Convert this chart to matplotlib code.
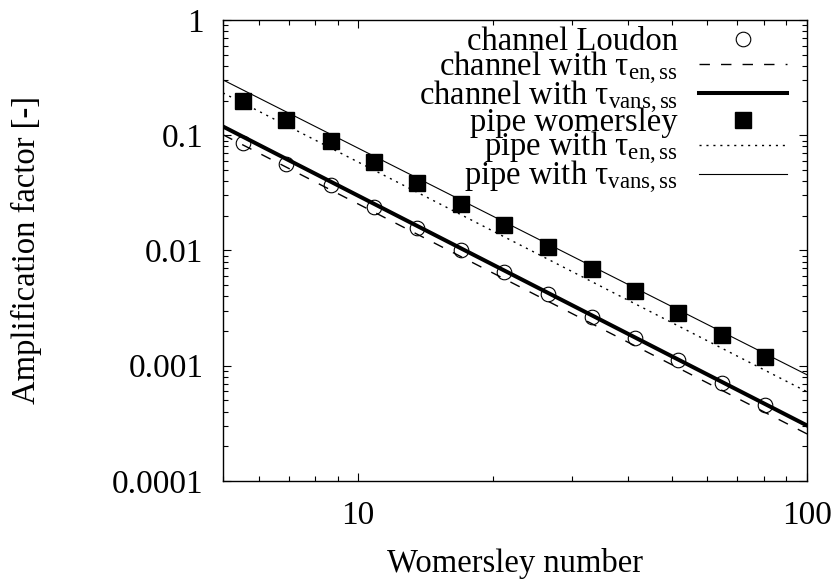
"""Amplification factor vs Womersley number (log-log)."""
import matplotlib
matplotlib.use('Agg')

import matplotlib.pyplot as plt
from matplotlib.ticker import FixedLocator, FixedFormatter, LogLocator, NullFormatter

plt.rcParams['font.family'] = ['Liberation Serif', 'DejaVu Serif']
plt.rcParams['mathtext.fontset'] = 'custom'
plt.rcParams['mathtext.rm'] = 'Liberation Serif'
plt.rcParams['mathtext.it'] = 'Liberation Serif:italic'

# data
womersley = [5.55, 6.92, 8.68, 10.85, 13.53, 16.93, 21.14, 26.46, 33.15, 41.4, 51.7, 64.7, 80.8]
channel_loudon = [0.0852, 0.0560, 0.0371, 0.0240, 0.0156, 0.0101, 0.00648,
                  0.00420, 0.00267, 0.00174, 0.00113, 0.000715, 0.000458]
pipe_womersley = [0.198, 0.136, 0.0893, 0.0590, 0.0386, 0.0254, 0.0167,
                  0.0108, 0.00692, 0.00449, 0.00289, 0.00185, 0.00120]

line_x = [5, 100]
channel_en = [0.101, 0.000256]
channel_vans = [0.119, 0.000303]
pipe_en = [0.233, 0.000594]
pipe_vans = [0.302, 0.000834]

y_ticks = [1e-4, 1e-3, 1e-2, 1e-1, 1]
y_tick_labels = ['0.0001', '0.001', '0.01', '0.1', '1']
x_ticks = [10, 100]
x_tick_labels = ['10', '100']

fig = plt.figure(figsize=(8.39, 5.86), dpi=100)
ax = fig.add_axes([0.2658, 0.1792, 0.6961, 0.7867])

ax.plot(womersley, channel_loudon, linestyle='none', marker='o', markersize=10.5,
        markerfacecolor='none', markeredgecolor='black', markeredgewidth=0.8,
        label='channel Loudon')
ax.plot(line_x, channel_en, color='black', linewidth=1.0, linestyle=(0, (7.5, 8)),
        label='channel with τ$_{\\rm en,ss}$')
ax.plot(line_x, channel_vans, color='black', linewidth=2.9,
        label='channel with τ$_{\\rm vans,ss}$')
ax.plot(womersley, pipe_womersley, linestyle='none', marker='s', markersize=11,
        color='black', label='pipe womersley')
ax.plot(line_x, pipe_en, color='black', linewidth=1.0, linestyle=(0, (1.5, 3.5)),
        label='pipe with τ$_{\\rm en,ss}$')
ax.plot(line_x, pipe_vans, color='black', linewidth=0.8,
        label='pipe with τ$_{\\rm vans,ss}$')

ax.set_xscale('log')
ax.set_yscale('log')
ax.set_xlim(5, 100)
ax.set_ylim(1e-4, 1)

ax.xaxis.set_major_locator(FixedLocator(x_ticks))
ax.xaxis.set_major_formatter(FixedFormatter(x_tick_labels))
ax.yaxis.set_major_locator(FixedLocator(y_ticks))
ax.yaxis.set_major_formatter(FixedFormatter(y_tick_labels))
ax.xaxis.set_minor_locator(LogLocator(base=10, subs=range(2, 10)))
ax.yaxis.set_minor_locator(LogLocator(base=10, subs=range(2, 10)))
ax.xaxis.set_minor_formatter(NullFormatter())
ax.yaxis.set_minor_formatter(NullFormatter())

ax.tick_params(which='both', direction='in', top=True, right=True, width=0.8)
ax.tick_params(which='major', length=6, labelsize=24, pad=14)
ax.tick_params(which='minor', length=3.5)
for side in ax.spines.values():
    side.set_linewidth(1.0)

ax.set_xlabel('Womersley number', fontsize=23.5, labelpad=12)
ax.set_ylabel('Amplification factor [-]', fontsize=23.5, labelpad=50)

ax.legend(loc='upper right', bbox_to_anchor=(0.9658, 0.985), frameon=False,
          markerfirst=False, fontsize=23.5, labelspacing=-0.25, handlelength=2.7,
          handletextpad=0.65, borderpad=0, borderaxespad=0, numpoints=1)

fig.savefig('out.png', dpi=100, facecolor='white')
plt.close(fig)
